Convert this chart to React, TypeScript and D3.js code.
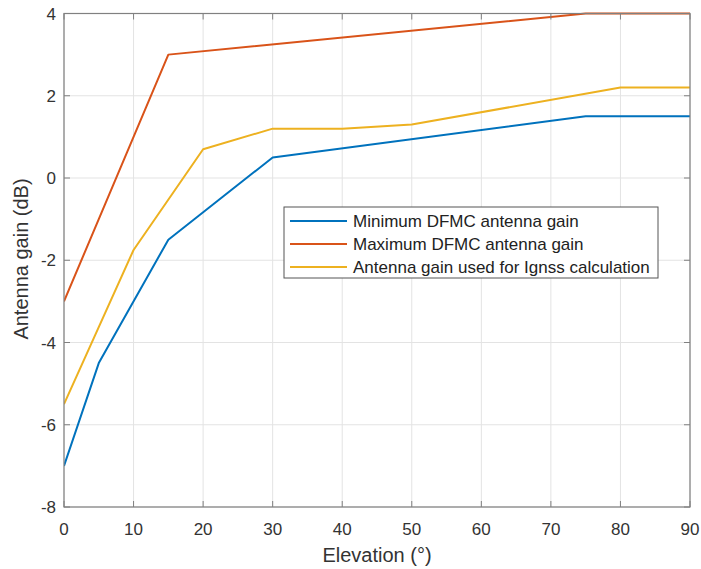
import * as d3 from 'd3';

const elevation = [0, 5, 15, 30, 75, 90];
const minGain = [-7, -4.5, -1.5, 0.5, 1.5, 1.5];

const maxElevation = [0, 15, 75, 90];
const maxGain = [-3, 3, 4, 4];

const usedElevation = [0, 10, 20, 30, 40, 50, 80, 90];
const usedGain = [-5.5, -1.75, 0.7, 1.2, 1.2, 1.3, 2.2, 2.2];

const xTicks = [0, 10, 20, 30, 40, 50, 60, 70, 80, 90];
const yTicks = [-8, -6, -4, -2, 0, 2, 4];

const seriesNames = [
    "Minimum DFMC antenna gain",
    "Maximum DFMC antenna gain",
    "Antenna gain used for Ignss calculation"
];
const colors = ["#0072BD", "#D95319", "#EDB120"];

const width = 701
const height = 569
const margin = {left: 64, top: 13.5, right: 11, bottom: 62}

const App = () => {
    const x = d3.scaleLinear().domain([0, 90]).range([margin.left, width - margin.right])
    const y = d3.scaleLinear().domain([-8, 4]).range([height - margin.bottom, margin.top])

    const line = d3.line<[number, number]>()
        .x(d => x(d[0]))
        .y(d => y(d[1]))

    const series: [number, number][][] = [
        elevation.map((e, i) => [e, minGain[i]]),
        maxElevation.map((e, i) => [e, maxGain[i]]),
        usedElevation.map((e, i) => [e, usedGain[i]])
    ]

    const x0 = x(0), x1 = x(90), y0 = y(-8), y1 = y(4)
    const font = "Liberation Sans, Arial, sans-serif"
    const tickLen = 6

    //legend box
    const lg = {x: 284, y: 207, w: 374, h: 71}

    return (
        <svg width={width} height={height} style={{position: "absolute", left: 0, top: 0}} fontFamily={font}>
            <rect width={width} height={height} fill="white" />

            {/* grid */}
            {xTicks.map(t => (
                <line key={"gx" + t} x1={x(t)} x2={x(t)} y1={y0} y2={y1} stroke="#e3e3e3" strokeWidth={1} />
            ))}
            {yTicks.map(t => (
                <line key={"gy" + t} x1={x0} x2={x1} y1={y(t)} y2={y(t)} stroke="#e3e3e3" strokeWidth={1} />
            ))}

            {/* data */}
            <g clipPath="url(#plotclip)">
                {series.map((s, i) => (
                    <path key={i} d={line(s) ?? ""} fill="none" stroke={colors[i]} strokeWidth={2} strokeLinejoin="round" />
                ))}
            </g>
            <defs>
                <clipPath id="plotclip">
                    <rect x={x0} y={y1 - 2} width={x1 - x0} height={y0 - y1 + 4} />
                </clipPath>
            </defs>

            {/* box and ticks */}
            <rect x={x0} y={y1} width={x1 - x0} height={y0 - y1} fill="none" stroke="#808080" strokeWidth={1.2} />
            {xTicks.map(t => (
                <g key={"tx" + t}>
                    <line x1={x(t)} x2={x(t)} y1={y0} y2={y0 - tickLen} stroke="#808080" />
                    <line x1={x(t)} x2={x(t)} y1={y1} y2={y1 + tickLen} stroke="#808080" />
                    <text x={x(t)} y={y0 + 28} textAnchor="middle" fontSize="17px" fill="#333">{t}</text>
                </g>
            ))}
            {yTicks.map(t => (
                <g key={"ty" + t}>
                    <line x1={x0} x2={x0 + tickLen} y1={y(t)} y2={y(t)} stroke="#808080" />
                    <line x1={x1} x2={x1 - tickLen} y1={y(t)} y2={y(t)} stroke="#808080" />
                    <text x={x0 - 8} y={y(t) + 6} textAnchor="end" fontSize="17px" fill="#333">{t}</text>
                </g>
            ))}

            {/* axis labels */}
            <text x={377} y={562} textAnchor="middle" fontSize="20px" fill="#333">Elevation (°)</text>
            <text transform={`translate(27.5,259) rotate(-90)`} textAnchor="middle" fontSize="20px" fill="#333">Antenna gain (dB)</text>

            {/* legend */}
            <rect x={lg.x} y={lg.y} width={lg.w} height={lg.h} fill="white" stroke="#555" strokeWidth={1} />
            {seriesNames.map((name, i) => (
                <g key={name}>
                    <line x1={lg.x + 6} x2={lg.x + 63} y1={lg.y + 14 + i * 23} y2={lg.y + 14 + i * 23} stroke={colors[i]} strokeWidth={2} />
                    <text x={lg.x + 69} y={lg.y + 20 + i * 23} fontSize="17px" fill="#222">{name}</text>
                </g>
            ))}
        </svg>
    )
}

export default App
